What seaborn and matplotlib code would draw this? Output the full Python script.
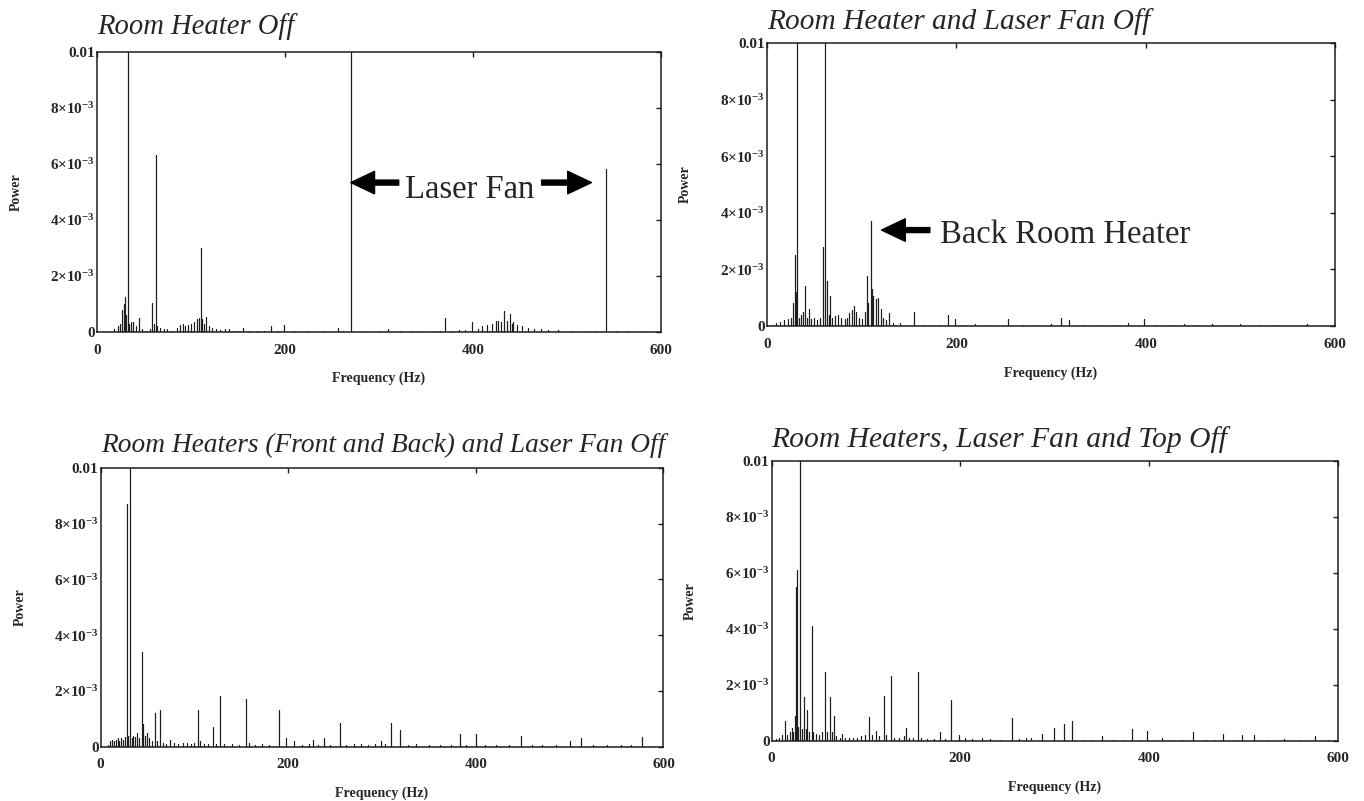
import numpy as np
import pandas as pd
import matplotlib
matplotlib.use('Agg')
import matplotlib.pyplot as plt
import seaborn as sns

# power values are in units of 1e-3 (values above 10 run off the top of the plot)

# --- Room Heater Off ---
p1_freq = [3, 10, 18, 22, 25, 27, 28.5, 30, 31, 32.7,
           34, 36, 38, 41, 45, 48, 52, 56, 59, 61,
           62.6, 64, 67, 71, 75, 80, 85, 88, 91, 94,
           97, 100, 103, 106, 108, 110.5, 112, 114, 116, 119,
           122, 127, 131, 136, 140, 146, 150, 155.6, 162, 170,
           178, 185.6, 192, 199.4, 210, 225, 240, 256, 262, 270,
           285, 300, 310, 322, 335, 345, 358, 365, 370.7, 378,
           385, 392, 398.8, 405, 410, 415, 420, 424, 427, 430,
           432.9, 436, 438.9, 441, 443, 447, 452, 458, 465, 472,
           480, 490, 505, 520, 530, 541.5, 552, 565, 580, 598]
p1_power = [0, 0.02, 0.1, 0.2, 0.3, 0.8, 1.0, 1.25, 0.6, 12,
            0.3, 0.35, 0.35, 0.2, 0.5, 0.1, 0.05, 0.1, 1.05, 0.3,
            6.3, 0.2, 0.15, 0.1, 0.1, 0.05, 0.15, 0.25, 0.3, 0.2,
            0.25, 0.3, 0.35, 0.45, 0.5, 3.0, 0.45, 0.3, 0.55, 0.2,
            0.15, 0.1, 0.08, 0.1, 0.12, 0.05, 0.05, 0.15, 0.03, 0.05,
            0.05, 0.2, 0.05, 0.25, 0.03, 0.03, 0.03, 0.15, 0.03, 12,
            0.02, 0.03, 0.1, 0.04, 0.05, 0.04, 0.04, 0.05, 0.5, 0.05,
            0.08, 0.06, 0.35, 0.1, 0.2, 0.25, 0.3, 0.4, 0.4, 0.35,
            0.75, 0.4, 0.65, 0.3, 0.35, 0.25, 0.2, 0.15, 0.12, 0.1,
            0.08, 0.06, 0.04, 0.03, 0.02, 5.8, 0.05, 0.02, 0.02, 0]

# --- Room Heater and Laser Fan Off ---
p2_freq = [0, 5, 10, 14, 18, 22, 25, 27, 29.4, 30.5,
           32.2, 34, 36, 38, 40, 42, 44, 47, 50, 53,
           56, 58.9, 61.1, 63, 65, 66.7, 69, 72, 75, 78,
           82, 85, 87, 89.7, 92, 94, 97, 100, 103, 105.7,
           107, 109.4, 111, 112.5, 115, 117.7, 120.5, 123, 126, 128.7,
           133, 140, 147, 155.4, 165, 175, 182, 190.8, 199, 210,
           220, 235, 255, 270, 285, 300, 310.3, 318.6, 335, 350,
           365, 381.6, 397.7, 410, 425, 440, 455, 470, 485, 500,
           520, 540, 570, 598]
p2_power = [0, 0.02, 0.1, 0.15, 0.2, 0.25, 0.3, 0.8, 2.5, 1.2,
            12, 0.3, 0.4, 0.5, 1.4, 0.3, 0.6, 0.25, 0.3, 0.2,
            0.3, 2.8, 12, 1.6, 0.4, 1.05, 0.3, 0.35, 0.4, 0.3,
            0.25, 0.3, 0.45, 0.55, 0.7, 0.5, 0.3, 0.25, 0.5, 1.75,
            0.8, 3.7, 1.3, 1.05, 0.95, 1.0, 0.6, 0.3, 0.2, 0.45,
            0.1, 0.1, 0.05, 0.5, 0.05, 0.05, 0.05, 0.4, 0.25, 0.03,
            0.08, 0.03, 0.25, 0.03, 0.05, 0.08, 0.3, 0.2, 0.03, 0.03,
            0.03, 0.1, 0.25, 0.03, 0.03, 0.08, 0.03, 0.08, 0.03, 0.08,
            0.03, 0.03, 0.08, 0]

# --- Room Heaters (Front and Back) and Laser Fan Off ---
p3_freq = [0, 8, 10, 12, 14, 16, 18, 20, 22, 24,
           26, 28.2, 29.5, 31.4, 33, 35, 37, 39, 41, 43.9,
           45.3, 47, 49.9, 52, 55, 58.2, 60, 62.9, 66, 70,
           74, 78, 82, 88, 92, 96, 100, 103.5, 106, 110,
           114, 119.3, 123, 127.1, 132, 140, 147, 154.9, 158, 165,
           172, 180, 190, 197.8, 206, 215, 222, 226.5, 232, 238,
           245, 254.7, 262, 270, 278, 285, 293, 298.6, 303, 310,
           319, 328, 336, 350, 362, 374, 382.7, 390, 399.8, 410,
           422, 435, 448.4, 460, 470, 485, 500, 512, 525, 540,
           555, 565, 576.9, 590, 598]
p3_power = [0, 0.05, 0.2, 0.25, 0.2, 0.25, 0.3, 0.2, 0.3, 0.25,
            0.35, 8.7, 0.4, 12, 0.3, 0.4, 0.35, 0.5, 0.3, 3.4,
            0.8, 0.4, 0.5, 0.3, 0.2, 1.2, 0.2, 1.3, 0.15, 0.1,
            0.25, 0.15, 0.08, 0.15, 0.12, 0.1, 0.15, 1.3, 0.2, 0.1,
            0.1, 0.7, 0.1, 1.8, 0.08, 0.08, 0.05, 1.7, 0.15, 0.05,
            0.1, 0.05, 1.3, 0.3, 0.2, 0.05, 0.1, 0.25, 0.05, 0.3,
            0.05, 0.85, 0.05, 0.08, 0.08, 0.05, 0.1, 0.2, 0.1, 0.85,
            0.6, 0.05, 0.08, 0.05, 0.05, 0.05, 0.45, 0.05, 0.45, 0.05,
            0.05, 0.05, 0.4, 0.05, 0.05, 0.05, 0.2, 0.3, 0.05, 0.05,
            0.05, 0.05, 0.35, 0.03, 0]

# --- Room Heaters, Laser Fan and Top Off ---
p4_freq = [0, 5, 8, 11, 13.9, 16, 19, 21.3, 23, 24.5,
           25.4, 26.8, 28, 30, 32, 34.7, 36, 37.9, 40, 42.5,
           44, 47, 50, 53, 56.9, 59, 61.9, 63.5, 65.6, 68,
           72, 74.9, 78, 82, 86, 90, 95, 99, 103, 106,
           111, 114, 118.8, 121, 126.7, 130, 135, 140, 142.4, 146,
           150, 154.9, 158, 165, 172, 178, 184, 190.4, 198.8, 205,
           212, 222.8, 232, 242, 254.7, 262, 270, 275, 286.6, 299,
           309.7, 318.5, 330, 340, 350.4, 362, 372, 381.8, 390, 398.4,
           413.6, 425, 435, 447, 460, 470, 478.9, 490, 498.8, 511.2,
           525, 543, 560, 575.5, 590, 598]
p4_power = [0, 0.05, 0.1, 0.2, 0.7, 0.2, 0.3, 0.45, 0.3, 0.9,
            5.5, 6.1, 0.5, 12, 0.4, 1.55, 0.4, 1.1, 0.3, 4.1,
            0.3, 0.25, 0.2, 0.3, 2.45, 0.3, 1.55, 0.3, 0.9, 0.15,
            0.1, 0.25, 0.1, 0.1, 0.08, 0.1, 0.15, 0.2, 0.85, 0.2,
            0.35, 0.15, 1.6, 0.2, 2.3, 0.1, 0.1, 0.15, 0.45, 0.1,
            0.1, 2.45, 0.1, 0.05, 0.05, 0.3, 0.05, 1.45, 0.2, 0.08,
            0.05, 0.1, 0.05, 0.03, 0.8, 0.05, 0.1, 0.1, 0.25, 0.45,
            0.6, 0.7, 0.03, 0.03, 0.15, 0.03, 0.03, 0.4, 0.03, 0.35,
            0.1, 0.03, 0.03, 0.3, 0.03, 0.03, 0.25, 0.03, 0.2, 0.2,
            0.03, 0.05, 0.03, 0.15, 0.03, 0]

titles = ['Room Heater Off',
          'Room Heater and Laser Fan Off',
          'Room Heaters (Front and Back) and Laser Fan Off',
          'Room Heaters, Laser Fan and Top Off']

x_ticks = [0, 200, 400, 600]
y_ticks = [0, 2, 4, 6, 8, 10]
y_ticklabels = ['0', '2×10$^{-3}$', '4×10$^{-3}$', '6×10$^{-3}$',
                '8×10$^{-3}$', '0.01']

sns.set_style('white')
plt.rcParams['font.family'] = ['Liberation Serif', 'DejaVu Serif']
plt.rcParams['mathtext.default'] = 'regular'

INK = '#1e1e1e'


def spike_frame(freqs, powers):
    # each spectral line goes up from the baseline and back down
    assert len(freqs) == len(powers)
    rows = []
    for f, p in zip(freqs, powers):
        rows += [(f, 0.0), (f, p), (f, 0.0)]
    return pd.DataFrame(rows, columns=['freq', 'power'])


fig = plt.figure(figsize=(13.64, 8.01), dpi=100)
fig.patch.set_facecolor('white')

# axes boxes in figure fractions (left, bottom, width, height)
boxes = [
    (0.0711, 0.5855, 0.4135, 0.3500),
    (0.5623, 0.5930, 0.4165, 0.3533),
    (0.0738, 0.0678, 0.4126, 0.3483),
    (0.5657, 0.0753, 0.4150, 0.3492),
]
title_pad = [13, 10, 11.5, 10]
title_size = [20.6, 21.2, 19.7, 21.3]
data = [(p1_freq, p1_power), (p2_freq, p2_power),
        (p3_freq, p3_power), (p4_freq, p4_power)]

axes = []
for box, title, (fr, pw), tp, ts in zip(boxes, titles, data, title_pad, title_size):
    ax = fig.add_axes(box)
    df = spike_frame(fr, pw)
    sns.lineplot(data=df, x='freq', y='power', sort=False, estimator=None,
                 color=INK, linewidth=0.8, ax=ax)
    ax.set_xlim(0, 600)
    ax.set_ylim(0, 10)
    ax.set_xticks(x_ticks)
    ax.set_xticklabels([str(t) for t in x_ticks])
    ax.set_yticks(y_ticks)
    ax.set_yticklabels(y_ticklabels)
    ax.tick_params(axis='both', direction='in', length=3.5, width=1,
                   color=INK, top=True, right=True, labelsize=11)
    ax.tick_params(axis='x', pad=8.5)
    ax.tick_params(axis='y', pad=1.5)
    for lab in ax.get_xticklabels() + ax.get_yticklabels():
        lab.set_fontweight('bold')
    for sp in ax.spines.values():
        sp.set_color(INK)
        sp.set_linewidth(1.1)
    ax.set_xlabel('Frequency (Hz)', fontsize=10, fontweight='bold')
    ax.set_ylabel('Power', fontsize=10, fontweight='bold')
    ax.xaxis.set_label_coords(0.5, -0.142)
    ax.yaxis.set_label_coords(-0.132, 0.5)
    ax.set_title(title, loc='left', pad=tp, fontsize=ts, style='italic')
    axes.append(ax)

arrow_kw = dict(arrowstyle='simple,head_length=0.95,head_width=0.9,tail_width=0.2',
                mutation_scale=18, fc='black', ec='black',
                shrinkA=0, shrinkB=0)

# Laser Fan annotation
ax = axes[0]
ax.annotate('', xy=(270, 5.33), xytext=(321, 5.33), arrowprops=arrow_kw)
ax.annotate('', xy=(526, 5.33), xytext=(473, 5.33), arrowprops=arrow_kw)
ax.text(328, 4.77, 'Laser Fan', fontsize=23.5, va='baseline', ha='left')

# Back Room Heater annotation
ax = axes[1]
ax.annotate('', xy=(121, 3.39), xytext=(172, 3.39), arrowprops=arrow_kw)
ax.text(182.7, 2.92, 'Back Room Heater', fontsize=23.5, va='baseline', ha='left')

fig.savefig('out.png', dpi=100, facecolor=fig.get_facecolor())
